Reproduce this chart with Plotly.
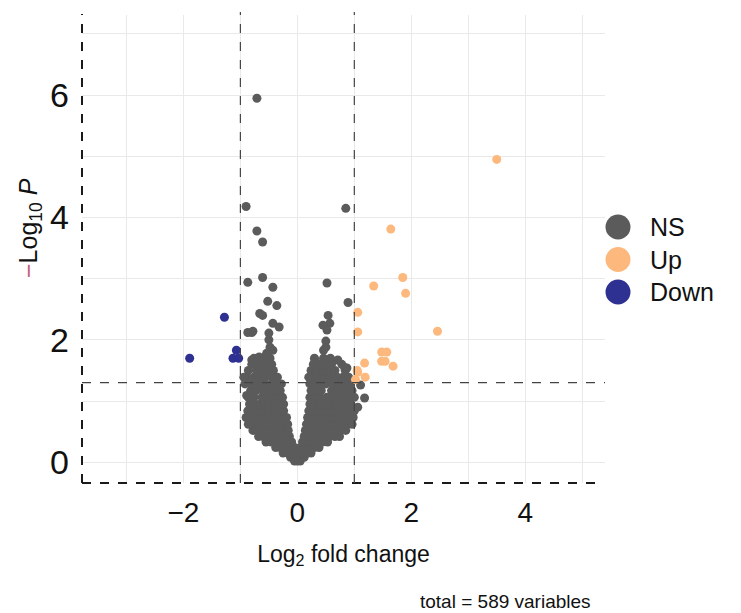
import plotly.graph_objects as go

# ---- data: log2 fold change (x) and -log10 P (y) ----
# not significant
ns_x = [
    -0.05, 0.0, 0.05,
    -0.12, -0.06, 0.0, 0.06, 0.12,
    -0.25, -0.17, -0.09, 0.0, 0.08, 0.16, 0.24,
    -0.38, -0.30, -0.21, -0.12, -0.05, 0.06, 0.13, 0.21, 0.30, 0.38,
    -0.55, -0.46, -0.37, -0.28, -0.19, -0.10, 0.09, 0.17, 0.26, 0.35, 0.44, 0.53,
    -0.68, -0.60, -0.51, -0.42, -0.33, -0.24, -0.14, 0.12, 0.21, 0.30, 0.39, 0.48, 0.57, 0.66, 0.74,
    -0.78, -0.70, -0.61, -0.52, -0.43, -0.34, -0.25, -0.16, 0.14, 0.23, 0.32, 0.41, 0.50, 0.59, 0.68, 0.77, 0.85,
    -0.86, -0.78, -0.69, -0.60, -0.51, -0.42, -0.33, -0.24, -0.17, 0.16, 0.25, 0.34, 0.43, 0.52, 0.61, 0.70, 0.79, 0.88, 0.96,
    -0.90, -0.81, -0.72, -0.63, -0.54, -0.45, -0.36, -0.27, -0.19, 0.18, 0.27, 0.36, 0.45, 0.54, 0.63, 0.72, 0.81, 0.90, 0.98,
    -0.87, -0.78, -0.69, -0.60, -0.51, -0.42, -0.33, -0.24, 0.20, 0.29, 0.38, 0.47, 0.56, 0.65, 0.74, 0.83, 0.92, 1.00,
    -0.84, -0.75, -0.66, -0.57, -0.48, -0.39, -0.30, -0.24, 0.22, 0.31, 0.40, 0.49, 0.58, 0.67, 0.76, 0.85, 0.94,
    -0.86, -0.76, -0.62, -0.52, -0.43, -0.34, -0.26, 0.22, 0.31, 0.40, 0.52, 0.62, 0.72, 0.80, 0.90, 1.00,
    -0.82, -0.72, -0.60, -0.50, -0.38, -0.30, 0.24, 0.33, 0.42, 0.60, 0.70, 0.78, 0.88, 0.96,
    -0.92, -0.80, -0.68, -0.58, -0.46, -0.36, -0.28, 0.22, 0.30, 0.40, 0.50, 0.62, 0.72, 0.82, 0.92,
    -0.88, -0.76, -0.66, -0.56, -0.44, -0.35, 0.20, 0.28, 0.38, 0.48, 0.58, 0.70, 0.80, 0.90,
    -0.86, -0.72, -0.60, -0.50, -0.42, 0.24, 0.34, 0.44, 0.55, 0.66, 0.84,
    -0.80, -0.66, -0.55, -0.45, 0.28, 0.40, 0.50, 0.60, 0.78,
    -0.76, -0.60, -0.48, 0.30, 0.46, 0.58,
    -0.71, -0.90, 0.85, -0.71, -0.61, -0.87, -0.61, 0.52, -0.43, -0.52, -0.36, 0.89,
    -0.66, -0.61, -0.43, -0.32, -0.80, -0.50, -0.50, -0.48, -0.54, 0.54, 0.57, 0.45,
    0.52, 0.50, 0.50, 0.46, -0.80, -0.72, 0.87, 1.11, 1.18, 1.06, -0.78, -0.67,
    -0.43, 0.31, 0.71, 0.83, -0.87, -0.94, -0.89, -0.87,
]
ns_y = [
    0.02, 0.02, 0.02,
    0.08, 0.08, 0.08, 0.08, 0.08,
    0.15, 0.15, 0.15, 0.15, 0.15, 0.15, 0.15,
    0.24, 0.24, 0.24, 0.24, 0.24, 0.24, 0.24, 0.24, 0.24, 0.24,
    0.33, 0.33, 0.33, 0.33, 0.33, 0.33, 0.33, 0.33, 0.33, 0.33, 0.33, 0.33,
    0.42, 0.42, 0.42, 0.42, 0.42, 0.42, 0.42, 0.42, 0.42, 0.42, 0.42, 0.42, 0.42, 0.42, 0.42,
    0.52, 0.52, 0.52, 0.52, 0.52, 0.52, 0.52, 0.52, 0.52, 0.52, 0.52, 0.52, 0.52, 0.52, 0.52, 0.52, 0.52,
    0.62, 0.62, 0.62, 0.62, 0.62, 0.62, 0.62, 0.62, 0.62, 0.62, 0.62, 0.62, 0.62, 0.62, 0.62, 0.62, 0.62, 0.62, 0.62,
    0.73, 0.73, 0.73, 0.73, 0.73, 0.73, 0.73, 0.73, 0.73, 0.73, 0.73, 0.73, 0.73, 0.73, 0.73, 0.73, 0.73, 0.73, 0.73,
    0.84, 0.84, 0.84, 0.84, 0.84, 0.84, 0.84, 0.84, 0.84, 0.84, 0.84, 0.84, 0.84, 0.84, 0.84, 0.84, 0.84, 0.84,
    0.95, 0.95, 0.95, 0.95, 0.95, 0.95, 0.95, 0.95, 0.95, 0.95, 0.95, 0.95, 0.95, 0.95, 0.95, 0.95, 0.95,
    1.06, 1.06, 1.06, 1.06, 1.06, 1.06, 1.06, 1.06, 1.06, 1.06, 1.06, 1.06, 1.06, 1.06, 1.06, 1.06,
    1.17, 1.17, 1.17, 1.17, 1.17, 1.17, 1.17, 1.17, 1.17, 1.17, 1.17, 1.17, 1.17, 1.17,
    1.28, 1.28, 1.28, 1.28, 1.28, 1.28, 1.28, 1.28, 1.28, 1.28, 1.28, 1.28, 1.28, 1.28, 1.28,
    1.39, 1.39, 1.39, 1.39, 1.39, 1.39, 1.39, 1.39, 1.39, 1.39, 1.39, 1.39, 1.39, 1.39,
    1.50, 1.50, 1.50, 1.50, 1.50, 1.50, 1.50, 1.50, 1.50, 1.50, 1.50,
    1.60, 1.60, 1.60, 1.60, 1.60, 1.60, 1.60, 1.60, 1.60,
    1.70, 1.70, 1.70, 1.70, 1.70, 1.70,
    5.95, 4.18, 4.15, 3.78, 3.60, 2.94, 3.02, 2.93, 2.86, 2.63, 2.56, 2.61,
    2.43, 2.40, 2.27, 2.21, 2.12, 2.11, 2.00, 1.88, 1.78, 2.40, 2.27, 2.24,
    2.16, 1.98, 1.88, 1.83, 1.67, 1.62, 1.54, 1.26, 1.05, 0.90, 2.14, 1.72,
    1.83, 1.67, 1.67, 1.55, 2.12, 1.39, 1.09, 0.74,
]

# up-regulated
up_x = [3.50, 1.64, 1.85, 1.34, 1.90, 1.06, 1.06, 2.46, 1.48, 1.57,
        1.48, 1.54, 1.68, 1.18, 1.06, 1.19, 1.02, 1.05]
up_y = [4.95, 3.81, 3.02, 2.88, 2.76, 2.45, 2.13, 2.14, 1.80, 1.80,
        1.65, 1.65, 1.57, 1.62, 1.47, 1.39, 1.35, 1.50]

# down-regulated
down_x = [-1.89, -1.28, -1.07, -1.13, -1.03]
down_y = [1.70, 2.37, 1.83, 1.70, 1.70]

fc_cut = 1.0
p_cut = 1.3
x_ticks = [-2, 0, 2, 4]
y_ticks = [0, 2, 4, 6]
group_names = ["NS", "Up", "Down"]
group_colors = ["#5b5b5b", "#fdb97d", "#2e3192"]

W, H = 741, 613
ML, MR, MT, MB = 82, 136, 15, 130
PW, PH = W - ML - MR, H - MT - MB


def px_x(px):
    return (px - ML) / PW


def px_y(py):
    return (H - MB - py) / PH


FONT = "Liberation Sans, Arial, sans-serif"

fig = go.Figure()
for name, xs, ys, col in zip(group_names, [ns_x, up_x, down_x], [ns_y, up_y, down_y], group_colors):
    fig.add_trace(go.Scatter(x=xs, y=ys, mode="markers", name=name,
                             marker=dict(size=9, color=col, line=dict(width=0)),
                             showlegend=False))

shapes = []
# white panel behind the legend hides the grid there
shapes.append(dict(type="rect", xref="paper", yref="paper", layer="between",
                   x0=px_x(577), x1=1.0, y0=px_y(323), y1=px_y(195),
                   fillcolor="white", line=dict(width=0)))
# dashed axis lines (left and bottom)
shapes.append(dict(type="line", xref="paper", yref="paper", x0=0, x1=0, y0=0, y1=px_y(14),
                   line=dict(color="#1a1a1a", width=2, dash="dash")))
shapes.append(dict(type="line", xref="paper", yref="paper", x0=0, x1=px_x(600), y0=0, y1=0,
                   line=dict(color="#1a1a1a", width=2, dash="dash")))
# cut-off lines
for xv in (-fc_cut, fc_cut):
    shapes.append(dict(type="line", xref="x", yref="paper", x0=xv, x1=xv, y0=0, y1=px_y(12),
                       line=dict(color="#444444", width=1.2, dash="dash")))
shapes.append(dict(type="line", xref="paper", yref="y", x0=0, x1=1, y0=p_cut, y1=p_cut,
                   line=dict(color="#444444", width=1.2, dash="dash")))

# legend drawn as circles + labels
annotations = []
r = 12.5
for i, (name, col) in enumerate(zip(group_names, group_colors)):
    cy = 227 + i * 32.5
    cx = 618
    shapes.append(dict(type="circle", xref="paper", yref="paper",
                       x0=px_x(cx - r), x1=px_x(cx + r), y0=px_y(cy + r), y1=px_y(cy - r),
                       fillcolor=col, line=dict(width=0)))
    annotations.append(dict(text=name, xref="paper", yref="paper", x=px_x(648), y=px_y(cy),
                            xanchor="left", yanchor="middle", showarrow=False,
                            font=dict(family=FONT, size=25, color="#111111")))

# y-axis title
annotations.append(dict(text="<span style='color:#c0607a'>\u2212</span>Log<sub>10</sub> <i>P</i>",
                        xref="paper", yref="paper", x=px_x(30), y=px_y(228),
                        xanchor="center", yanchor="middle", textangle=-90, showarrow=False,
                        font=dict(family=FONT, size=25, color="#111111")))

# variable count caption
annotations.append(dict(text="total = 589 variables", xref="paper", yref="paper",
                        x=px_x(593), y=px_y(601), xanchor="right", yanchor="middle",
                        showarrow=False, font=dict(family=FONT, size=19, color="#111111")))

grid_col = "#e9e9e9"
fig.update_layout(
    width=W, height=H,
    margin=dict(l=ML, r=MR, t=MT, b=MB, pad=0),
    paper_bgcolor="white", plot_bgcolor="white",
    font=dict(family=FONT, color="#111111"),
    shapes=shapes, annotations=annotations,
    showlegend=False,
    xaxis=dict(range=[-3.78, 5.4], tickvals=x_ticks,
               showgrid=True, gridcolor=grid_col, gridwidth=1.4,
               minor=dict(tickvals=[-3, -1, 1, 3, 5], showgrid=True, gridcolor=grid_col, gridwidth=1.4),
               zeroline=False, showline=False, ticks="",
               tickfont=dict(size=28, color="#111111"), ticklabelstandoff=10,
               title=dict(text="Log<sub>2</sub> fold change", font=dict(size=23, color="#111111"),
                          standoff=18)),
    yaxis=dict(range=[-0.34, 7.31], tickvals=y_ticks,
               showgrid=True, gridcolor=grid_col, gridwidth=1.4,
               minor=dict(tickvals=[1, 3, 5, 7], showgrid=True, gridcolor=grid_col, gridwidth=1.4),
               zeroline=False, showline=False, ticks="",
               tickfont=dict(size=34, color="#111111"), ticklabelstandoff=12),
)

fig.write_html("out.html")
